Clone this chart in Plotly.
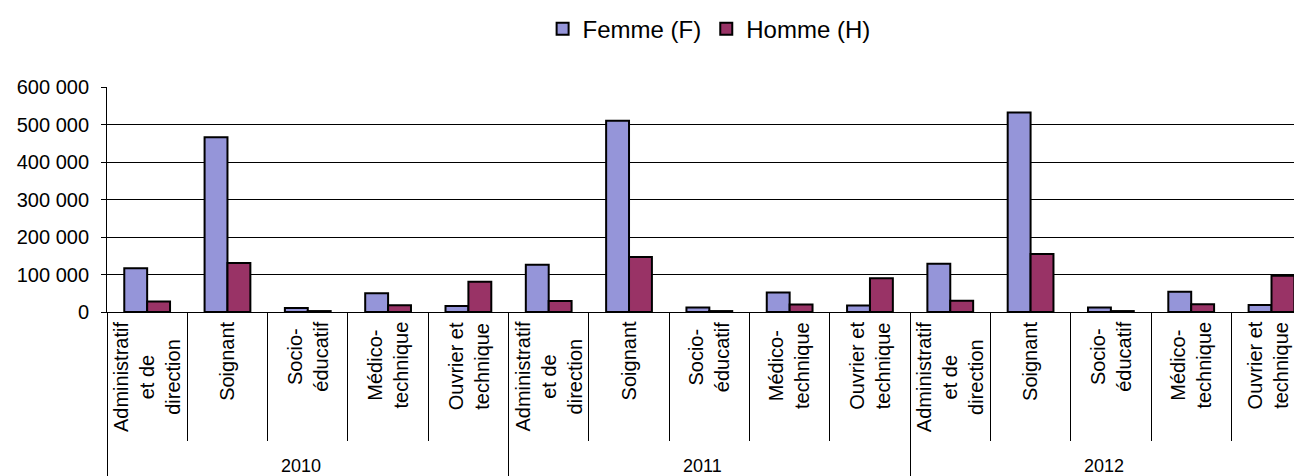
import plotly.graph_objects as go

# Effectifs par filière, femmes / hommes, 2010-2012
years = ["2010", "2011", "2012"]
categories = [
    "Administratif<br>et de<br>direction",
    "Soignant",
    "Socio-<br>éducatif",
    "Médico-<br>technique",
    "Ouvrier et<br>technique",
]

femme_2010 = [117000, 466000, 11000, 50000, 16000]
homme_2010 = [28000, 131000, 2500, 18000, 81000]
femme_2011 = [126000, 510000, 12000, 52000, 17500]
homme_2011 = [29500, 147000, 2500, 20000, 90000]
femme_2012 = [129000, 532000, 12000, 54000, 19000]
homme_2012 = [30000, 155000, 2500, 21000, 97000]

y_ticks = [0, 100000, 200000, 300000, 400000, 500000, 600000]

FONT = "Liberation Sans, Arial, sans-serif"
COL_F = "#9595D9"
COL_H = "#993366"

femme = femme_2010 + femme_2011 + femme_2012
homme = homme_2010 + homme_2011 + homme_2012
n_cat = len(categories)
n_all = n_cat * len(years)
positions = list(range(n_all))

fig = go.Figure()
fig.add_trace(go.Bar(
    x=positions, y=femme, name="Femme (F)",
    marker=dict(color=COL_F, line=dict(color="black", width=2)),
))
fig.add_trace(go.Bar(
    x=positions, y=homme, name="Homme (H)",
    marker=dict(color=COL_H, line=dict(color="black", width=2)),
))

# boundaries between years (long ticks) and between categories (short ticks)
year_bounds = [k * n_cat - 0.5 for k in range(len(years) + 1)]
cat_bounds = [k - 0.5 for k in range(n_all) if k % n_cat != 0]

annotations = []
for i in positions:
    annotations.append(dict(
        x=i, xref="x", y=-0.035, yref="paper",
        text=categories[i % n_cat], showarrow=False,
        textangle=-90, align="center",
        xanchor="center", yanchor="top",
        # keep the right-most label inside the page
        xshift=-4 if i == n_all - 1 else 0,
        font=dict(family=FONT, size=20, color="black"),
    ))
for k, yr in enumerate(years):
    annotations.append(dict(
        x=k * n_cat + (n_cat - 1) / 2, xref="x", y=-0.684, yref="paper",
        text=yr, showarrow=False, xshift=-7,
        xanchor="center", yanchor="middle",
        font=dict(family=FONT, size=18, color="black"),
    ))

fig.update_layout(
    width=1294, height=476,
    margin=dict(l=107, r=0, t=87, b=164, pad=0, autoexpand=False),
    paper_bgcolor="white", plot_bgcolor="white",
    barmode="group", bargap=0.43, bargroupgap=0,
    separators=", ",
    font=dict(family=FONT, size=20, color="black"),
    showlegend=True,
    legend=dict(
        orientation="h", xref="container", yref="container",
        x=0.548, xanchor="center", y=0.939, yanchor="middle",
        font=dict(family=FONT, size=24, color="black"),
        itemwidth=30, bgcolor="rgba(0,0,0,0)",
    ),
    annotations=annotations,
    xaxis=dict(
        range=[-0.5, 14.28], showgrid=False, zeroline=False,
        automargin=False,
        showline=True, linecolor="black", linewidth=1,
        tickmode="array", tickvals=year_bounds, showticklabels=False,
        ticks="outside", ticklen=164, tickwidth=1, tickcolor="black",
        minor=dict(tickmode="array", tickvals=cat_bounds, ticks="outside",
                   ticklen=128, tickwidth=1, tickcolor="black"),
    ),
    yaxis=dict(
        range=[0, 600000], tickmode="array", tickvals=y_ticks,
        tickformat=",d", showgrid=True, gridcolor="black", gridwidth=1,
        zeroline=False, showline=True, linecolor="black", linewidth=1,
        automargin=False,
        ticks="outside", ticklen=5, tickcolor="black",
        ticklabelstandoff=8,
        tickfont=dict(family=FONT, size=20, color="black"),
    ),
)

fig.write_html("out.html")
